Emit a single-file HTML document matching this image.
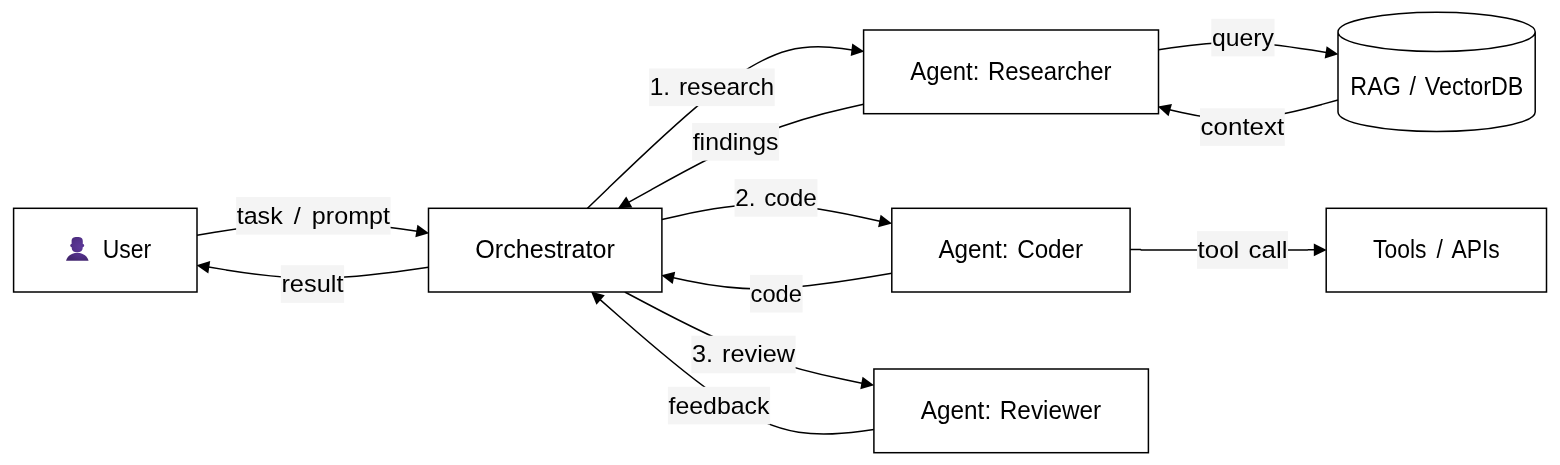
<!DOCTYPE html>
<html><head><meta charset="utf-8"><title>Agent flow</title>
<style>
html,body{margin:0;padding:0;background:#fff;}
svg{display:block;will-change:transform;font-family:"Liberation Sans",sans-serif;}

</style></head>
<body>
<svg width="1560" height="465" viewBox="0 0 1560 465">
<rect width="1560" height="465" fill="#fff"/>
<path d="M197.00,235.30L216.33,232.08C235.67,228.87 274.33,222.43 311.05,221.77C347.77,221.10 382.53,226.20 399.92,228.75L417.30,231.30" fill="none" stroke="#000" stroke-width="1.5"/>
<polygon points="429.09,233.22 415.33,237.30 417.41,224.87" fill="#000"/>
<path d="M428.50,267.20L409.17,269.95C389.83,272.70 351.17,278.20 314.52,278.18C277.87,278.17 243.23,272.63 225.92,269.87L208.60,267.10" fill="none" stroke="#000" stroke-width="1.5"/>
<polygon points="196.51,265.30 210.20,260.97 208.33,273.43" fill="#000"/>
<path d="M587.50,208.20L608.50,187.92C629.51,167.64 671.51,127.07 705.38,99.31C739.25,71.54 764.99,56.56 788.10,50.47C811.21,44.38 831.71,47.16 841.95,48.56L852.20,49.95" fill="none" stroke="#000" stroke-width="1.5"/>
<polygon points="864.29,51.39 850.72,56.07 852.26,43.56" fill="#000"/>
<path d="M863.60,104.30L847.13,107.95C830.65,111.60 797.71,118.91 758.59,135.22C719.47,151.54 674.19,176.87 651.54,189.53L628.90,202.20" fill="none" stroke="#000" stroke-width="1.5"/>
<polygon points="617.99,208.34 626.22,196.58 632.32,207.60" fill="#000"/>
<path d="M661.90,219.60L678.87,215.72C695.83,211.84 729.77,204.09 766.12,204.35C802.47,204.62 841.23,212.91 860.62,217.05L880.00,221.20" fill="none" stroke="#000" stroke-width="1.5"/>
<polygon points="891.99,223.54 878.09,227.14 880.60,214.79" fill="#000"/>
<path d="M891.80,273.30L869.41,277.00C847.02,280.69 802.23,288.08 765.85,288.83C729.47,289.58 701.48,283.69 687.49,280.75L673.50,277.80" fill="none" stroke="#000" stroke-width="1.5"/>
<polygon points="661.31,275.36 675.21,271.76 672.70,284.11" fill="#000"/>
<path d="M624.80,292.00L646.60,303.53C668.40,315.07 712.01,338.13 751.52,353.33C791.04,368.53 826.47,375.87 844.18,379.53L861.90,383.20" fill="none" stroke="#000" stroke-width="1.5"/>
<polygon points="874.09,385.33 860.26,389.17 862.55,376.78" fill="#000"/>
<path d="M873.90,429.50L861.48,431.19C849.07,432.87 824.23,436.24 798.64,432.20C773.05,428.16 746.71,416.72 713.49,393.38C680.27,370.05 640.19,334.82 620.14,317.21L600.10,299.60" fill="none" stroke="#000" stroke-width="1.5"/>
<polygon points="590.98,291.54 604.81,295.37 596.46,304.80" fill="#000"/>
<path d="M1158.50,49.80L1171.74,47.84C1184.98,45.89 1211.46,41.98 1239.43,42.43C1267.39,42.88 1296.85,47.69 1311.57,50.09L1326.30,52.50" fill="none" stroke="#000" stroke-width="1.5"/>
<polygon points="1338.39,54.31 1324.69,58.58 1326.59,46.13" fill="#000"/>
<path d="M1338.00,100.00L1322.00,104.37C1306.00,108.73 1274.00,117.47 1245.92,119.08C1217.83,120.70 1193.67,115.20 1181.58,112.45L1169.50,109.70" fill="none" stroke="#000" stroke-width="1.5"/>
<polygon points="1157.83,106.61 1171.94,103.99 1168.57,116.13" fill="#000"/>
<path d="M1130.1,249.6 L1140.5,249.6 L1141.2,249.95 L1307.5,249.95 L1308.5,249.65 L1315,249.65" fill="none" stroke="#000" stroke-width="1.5"/>
<polygon points="1326.70,249.90 1313.80,256.20 1313.80,243.60" fill="#000"/>
<rect x="236.10000000000002" y="197.04999999999998" width="154.50" height="37.60" fill="#f4f4f4"/><text x="313.35" y="223.75" text-anchor="middle" font-size="24.5" textLength="153.3" lengthAdjust="spacingAndGlyphs" fill="#000" style="word-spacing:4px">task / prompt</text>
<rect x="280.8" y="265.25" width="63.30" height="37.60" fill="#f4f4f4"/><text x="312.45" y="291.95" text-anchor="middle" font-size="24.5" textLength="62.1" lengthAdjust="spacingAndGlyphs" fill="#000" style="word-spacing:2px">result</text>
<rect x="649.1" y="68.5" width="125.60" height="37.60" fill="#f4f4f4"/><text x="711.9" y="95.2" text-anchor="middle" font-size="24.5" textLength="124.4" lengthAdjust="spacingAndGlyphs" fill="#000" style="word-spacing:2px">1. research</text>
<rect x="692.1" y="123.05" width="87.00" height="37.60" fill="#f4f4f4"/><text x="735.6" y="149.75" text-anchor="middle" font-size="24.5" textLength="85.8" lengthAdjust="spacingAndGlyphs" fill="#000" style="word-spacing:2px">findings</text>
<rect x="734.55" y="179.1" width="82.90" height="37.60" fill="#f4f4f4"/><text x="776" y="205.8" text-anchor="middle" font-size="24.5" textLength="81.7" lengthAdjust="spacingAndGlyphs" fill="#000" style="word-spacing:2px">2. code</text>
<rect x="750.0" y="274.9" width="52.60" height="37.60" fill="#f4f4f4"/><text x="776.3" y="301.59999999999997" text-anchor="middle" font-size="24.5" textLength="51.4" lengthAdjust="spacingAndGlyphs" fill="#000" style="word-spacing:2px">code</text>
<rect x="691.35" y="335.7" width="104.30" height="37.60" fill="#f4f4f4"/><text x="743.5" y="362.4" text-anchor="middle" font-size="24.5" textLength="103.1" lengthAdjust="spacingAndGlyphs" fill="#000" style="word-spacing:2px">3. review</text>
<rect x="667.9" y="386.8" width="102.20" height="37.60" fill="#f4f4f4"/><text x="719" y="413.5" text-anchor="middle" font-size="24.5" textLength="101.0" lengthAdjust="spacingAndGlyphs" fill="#000" style="word-spacing:2px">feedback</text>
<rect x="1211.3000000000002" y="18.8" width="63.20" height="37.60" fill="#f4f4f4"/><text x="1242.9" y="45.5" text-anchor="middle" font-size="24.5" textLength="62.0" lengthAdjust="spacingAndGlyphs" fill="#000" style="word-spacing:2px">query</text>
<rect x="1200.0" y="108.3" width="84.80" height="37.60" fill="#f4f4f4"/><text x="1242.4" y="135.0" text-anchor="middle" font-size="24.5" textLength="83.6" lengthAdjust="spacingAndGlyphs" fill="#000" style="word-spacing:2px">context</text>
<rect x="1196.95" y="231.14999999999998" width="91.10" height="37.60" fill="#f4f4f4"/><text x="1242.5" y="257.84999999999997" text-anchor="middle" font-size="24.5" textLength="89.9" lengthAdjust="spacingAndGlyphs" fill="#000" style="word-spacing:2px">tool call</text>
<rect x="13.6" y="208.3" width="183.40" height="83.70" fill="#fff" stroke="#000" stroke-width="1.5"/>
<rect x="428.5" y="208.3" width="233.40" height="83.70" fill="#fff" stroke="#000" stroke-width="1.5"/>
<rect x="863.6" y="30.0" width="294.90" height="83.70" fill="#fff" stroke="#000" stroke-width="1.5"/>
<rect x="891.8" y="208.3" width="238.30" height="83.70" fill="#fff" stroke="#000" stroke-width="1.5"/>
<rect x="1326.2" y="208.3" width="220.30" height="83.70" fill="#fff" stroke="#000" stroke-width="1.5"/>
<rect x="873.9" y="369.0" width="274.50" height="83.70" fill="#fff" stroke="#000" stroke-width="1.5"/>
<path d="M1338,31.900000000000002 a98.60000000000002,19.6 0 0 0 197.20000000000005,0 a98.60000000000002,19.6 0 0 0 -197.20000000000005,0 l0,80.0 a98.60000000000002,19.6 0 0 0 197.20000000000005,0 l0,-80.0" fill="#fff" stroke="#000" stroke-width="1.5"/>
<text x="127.0" y="257.6" text-anchor="middle" font-size="25.3" textLength="48.4" lengthAdjust="spacingAndGlyphs" fill="#000" style="word-spacing:2px">User</text>
<text x="545.1" y="257.9" text-anchor="middle" font-size="25.3" textLength="139.5" lengthAdjust="spacingAndGlyphs" fill="#000" style="word-spacing:2px">Orchestrator</text>
<text x="1010.9" y="79.8" text-anchor="middle" font-size="25.3" textLength="201.2" lengthAdjust="spacingAndGlyphs" fill="#000" style="word-spacing:2px">Agent: Researcher</text>
<text x="1436.8" y="94.5" text-anchor="middle" font-size="25.3" textLength="173" lengthAdjust="spacingAndGlyphs" fill="#000" style="word-spacing:2.5px">RAG / VectorDB</text>
<text x="1010.8" y="257.9" text-anchor="middle" font-size="25.3" textLength="144.7" lengthAdjust="spacingAndGlyphs" fill="#000" style="word-spacing:2px">Agent: Coder</text>
<text x="1436.4" y="257.9" text-anchor="middle" font-size="25.3" textLength="126.7" lengthAdjust="spacingAndGlyphs" fill="#000" style="word-spacing:4px">Tools / APIs</text>
<text x="1011" y="418.5" text-anchor="middle" font-size="25.3" textLength="180.3" lengthAdjust="spacingAndGlyphs" fill="#000" style="word-spacing:2px">Agent: Reviewer</text>
<g>
<defs><radialGradient id="pg" gradientUnits="userSpaceOnUse" cx="80.5" cy="247" r="15"><stop offset="0" stop-color="#5d3899"/><stop offset="0.55" stop-color="#523089"/><stop offset="1" stop-color="#43266f"/></radialGradient></defs>
<path d="M66,260.8 C67.2,256.2 71.5,252.75 77.3,252.75 C83.1,252.75 87.4,256.2 88.6,260.8 Z" fill="url(#pg)"/>
<path d="M71.6,241.2 C71.6,238.2 73.2,237 77.2,237 C81.2,237 82.8,238.2 82.8,241.2 L82.8,244.1 C83.6,244.1 84.2,244.7 84.2,245.6 C84.2,246.5 83.6,247.1 82.8,247.1 L82.7,248 C82.7,250.8 80.6,252.2 77.2,252.2 C73.8,252.2 71.7,250.8 71.7,248 L71.6,247.1 C70.8,247.1 70.2,246.5 70.2,245.6 C70.2,244.7 70.8,244.1 71.6,244.1 Z" fill="url(#pg)"/>
</g>
</svg>
</body></html>
